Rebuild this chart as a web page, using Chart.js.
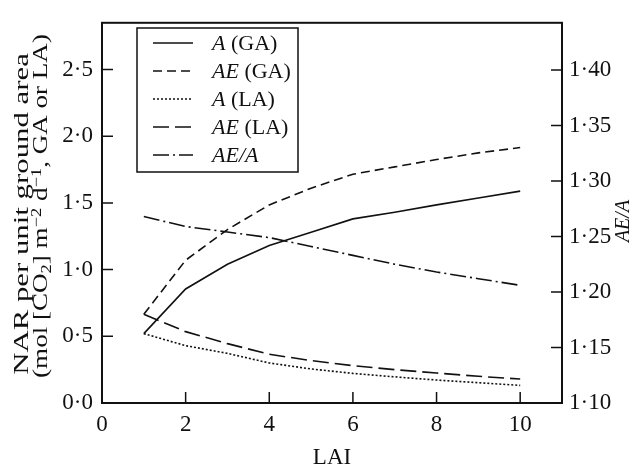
<!DOCTYPE html>
<html>
<head>
<meta charset="utf-8">
<script src="https://cdn.jsdelivr.net/npm/chart.js@4.4.1/dist/chart.umd.min.js"></script>
<style>
  html, body { margin: 0; padding: 0; background: #fff; }
  #wrap { width: 636px; height: 467px; }
</style>
</head>
<body>
<div id="wrap"><canvas id="chart" width="636" height="467"></canvas></div>
<script>
// LAI values along the x axis
const lai = [1, 2, 3, 4, 5, 6, 7, 8, 9, 10];

// NAR series, left axis
const aGA  = [0.52, 0.855, 1.04, 1.18, 1.28, 1.38, 1.43, 1.485, 1.537, 1.588];
const aeGA = [0.665, 1.07, 1.30, 1.485, 1.61, 1.715, 1.77, 1.825, 1.875, 1.915];
const aLA  = [0.52, 0.43, 0.372, 0.30, 0.255, 0.222, 0.196, 0.172, 0.152, 0.132];
const aeLA = [0.665, 0.535, 0.445, 0.365, 0.318, 0.28, 0.25, 0.225, 0.20, 0.18];

// ratio AE/A, right axis
const aeOverA = [1.268, 1.259, 1.254, 1.249, 1.241, 1.233, 1.225, 1.218, 1.212, 1.206];

// tick labels
const xTicks = [0, 2, 4, 6, 8, 10];
const leftTicks = [0, 0.5, 1, 1.5, 2, 2.5];
const rightTicks = [1.10, 1.15, 1.20, 1.25, 1.30, 1.35, 1.40];

const seriesNames = ['A (GA)', 'AE (GA)', 'A (LA)', 'AE (LA)', 'AE/A'];

// y title, second line split in runs: [text, 0 normal / -1 sub / 1 sup]
const yTitle1 = 'NAR per unit ground area';
const yTitle2 = [['(mol [CO', 0], ['2', -1], ['] m', 0], ['\u22122', 1], [' d', 0], ['\u22121', 1], [', GA or LA)', 0]];

const FONT = "'Liberation Serif', 'Times New Roman', serif";
const INK = '#111';

function pts(ys) {
    return lai.map((x, i) => ({ x: x, y: ys[i] }));
}

function dot(v, digits) {
    return v.toFixed(digits).replace('.', '\u00b7');
}

// draw runs of text centred at 0,0 in the current transform
function drawRuns(ctx, runs, size) {
    const small = Math.round(size * 0.68);
    let total = 0;
    runs.forEach(([t, k]) => {
        ctx.font = (k ? small : size) + 'px ' + FONT;
        total += ctx.measureText(t).width;
    });
    let x = -total / 2;
    ctx.textAlign = 'left';
    runs.forEach(([t, k]) => {
        ctx.font = (k ? small : size) + 'px ' + FONT;
        const dy = k === 1 ? -size * 0.26 : (k === -1 ? size * 0.2 : 0);
        ctx.fillText(t, x, dy);
        x += ctx.measureText(t).width;
    });
}

// frame, inward ticks, legend box and rotated axis titles
const decorations = {
    id: 'decorations',
    afterDatasetsDraw(chart) {
        const ctx = chart.ctx;
        const area = chart.chartArea;
        const sx = chart.scales.x, sy = chart.scales.y, sy1 = chart.scales.y1;
        const tick = 11;

        ctx.save();
        ctx.strokeStyle = INK;
        ctx.lineWidth = 2;
        ctx.setLineDash([]);
        ctx.strokeRect(area.left, area.top, area.right - area.left, area.bottom - area.top);

        ctx.lineWidth = 1.5;
        ctx.beginPath();
        sx.ticks.forEach(t => {
            const px = sx.getPixelForValue(t.value);
            ctx.moveTo(px, area.bottom);
            ctx.lineTo(px, area.bottom - tick);
        });
        sy.ticks.forEach(t => {
            const py = sy.getPixelForValue(t.value);
            ctx.moveTo(area.left, py);
            ctx.lineTo(area.left + tick, py);
        });
        sy1.ticks.forEach(t => {
            const py = sy1.getPixelForValue(t.value);
            ctx.moveTo(area.right, py);
            ctx.lineTo(area.right - tick, py);
        });
        ctx.stroke();

        // legend
        const box = { left: 137, top: 28, right: 298, bottom: 172 };
        ctx.fillStyle = '#fff';
        ctx.fillRect(box.left, box.top, box.right - box.left, box.bottom - box.top);
        ctx.lineWidth = 1.5;
        ctx.strokeRect(box.left, box.top, box.right - box.left, box.bottom - box.top);

        const rowY = [43, 71, 99, 127, 155];
        chart.data.datasets.forEach((ds, i) => {
            const y = rowY[i];
            ctx.beginPath();
            ctx.lineWidth = ds.borderWidth;
            ctx.setLineDash(ds.borderDash || []);
            ctx.moveTo(153, y);
            ctx.lineTo(193, y);
            ctx.stroke();
            ctx.setLineDash([]);

            // italic symbol, upright bracket part
            const label = ds.label;
            const sp = label.indexOf(' ');
            const ital = sp < 0 ? label : label.slice(0, sp);
            const rest = sp < 0 ? '' : label.slice(sp);
            ctx.fillStyle = INK;
            ctx.textBaseline = 'middle';
            ctx.textAlign = 'left';
            ctx.font = 'italic 22px ' + FONT;
            ctx.fillText(ital, 212, y + 1);
            const w = ctx.measureText(ital).width;
            ctx.font = '22px ' + FONT;
            ctx.fillText(rest, 212 + w, y + 1);
        });

        // left axis title, two lines, rotated and stretched along the text
        ctx.fillStyle = INK;
        ctx.textBaseline = 'alphabetic';
        ctx.save();
        ctx.translate(28, 214);
        ctx.rotate(-Math.PI / 2);
        ctx.scale(1.4, 1);
        drawRuns(ctx, [[yTitle1, 0]], 22);
        ctx.restore();

        ctx.save();
        ctx.translate(47, 206);
        ctx.rotate(-Math.PI / 2);
        ctx.scale(1.23, 1);
        drawRuns(ctx, yTitle2, 22);
        ctx.restore();

        // right axis title
        ctx.save();
        ctx.translate(629, 221);
        ctx.rotate(-Math.PI / 2);
        ctx.textAlign = 'center';
        ctx.font = 'italic 20px ' + FONT;
        ctx.fillText('AE/A', 0, 0);
        ctx.restore();

        ctx.restore();
    }
};

const lineBase = { borderColor: INK, borderWidth: 1.6, pointRadius: 0, fill: false, tension: 0 };

new Chart(document.getElementById('chart'), {
    type: 'line',
    data: {
        datasets: [
            Object.assign({ label: seriesNames[0], data: pts(aGA), yAxisID: 'y' }, lineBase),
            Object.assign({ label: seriesNames[1], data: pts(aeGA), yAxisID: 'y', borderDash: [9, 5] }, lineBase),
            Object.assign({ label: seriesNames[2], data: pts(aLA), yAxisID: 'y', borderDash: [2, 2] }, lineBase),
            Object.assign({ label: seriesNames[3], data: pts(aeLA), yAxisID: 'y', borderDash: [16, 6] }, lineBase),
            Object.assign({ label: seriesNames[4], data: pts(aeOverA), yAxisID: 'y1', borderDash: [16, 4, 2, 4] }, lineBase)
        ]
    },
    options: {
        responsive: false,
        animation: false,
        layout: { padding: { top: 14, left: 0, right: 0, bottom: 0 } },
        plugins: { legend: { display: false }, tooltip: { enabled: false } },
        scales: {
            x: {
                type: 'linear',
                min: 0,
                max: 11,
                grid: { display: false, drawTicks: false },
                border: { display: false },
                afterBuildTicks: s => { s.ticks = xTicks.map(v => ({ value: v })); },
                afterFit: s => { s.height = 64; },
                ticks: { color: INK, padding: 8, font: { family: FONT, size: 23 }, maxRotation: 0, callback: v => String(v) },
                title: { display: true, text: 'LAI', color: INK, font: { family: FONT, size: 23, lineHeight: 1 }, padding: { top: 0, bottom: -2 } }
            },
            y: {
                position: 'left',
                min: 0,
                max: 2.85,
                grid: { display: false, drawTicks: false },
                border: { display: false },
                afterBuildTicks: s => { s.ticks = leftTicks.map(v => ({ value: v })); },
                afterFit: s => { s.width = 102; },
                ticks: { color: INK, padding: 9, font: { family: FONT, size: 23 }, callback: v => dot(v, 1) }
            },
            y1: {
                position: 'right',
                min: 1.10,
                max: 1.4425,
                grid: { display: false, drawTicks: false },
                border: { display: false },
                afterBuildTicks: s => { s.ticks = rightTicks.map(v => ({ value: v })); },
                afterFit: s => { s.width = 74; },
                ticks: { color: INK, padding: 7, font: { family: FONT, size: 23 }, callback: v => dot(v, 2) }
            }
        }
    },
    plugins: [decorations]
});
</script>
</body>
</html>
